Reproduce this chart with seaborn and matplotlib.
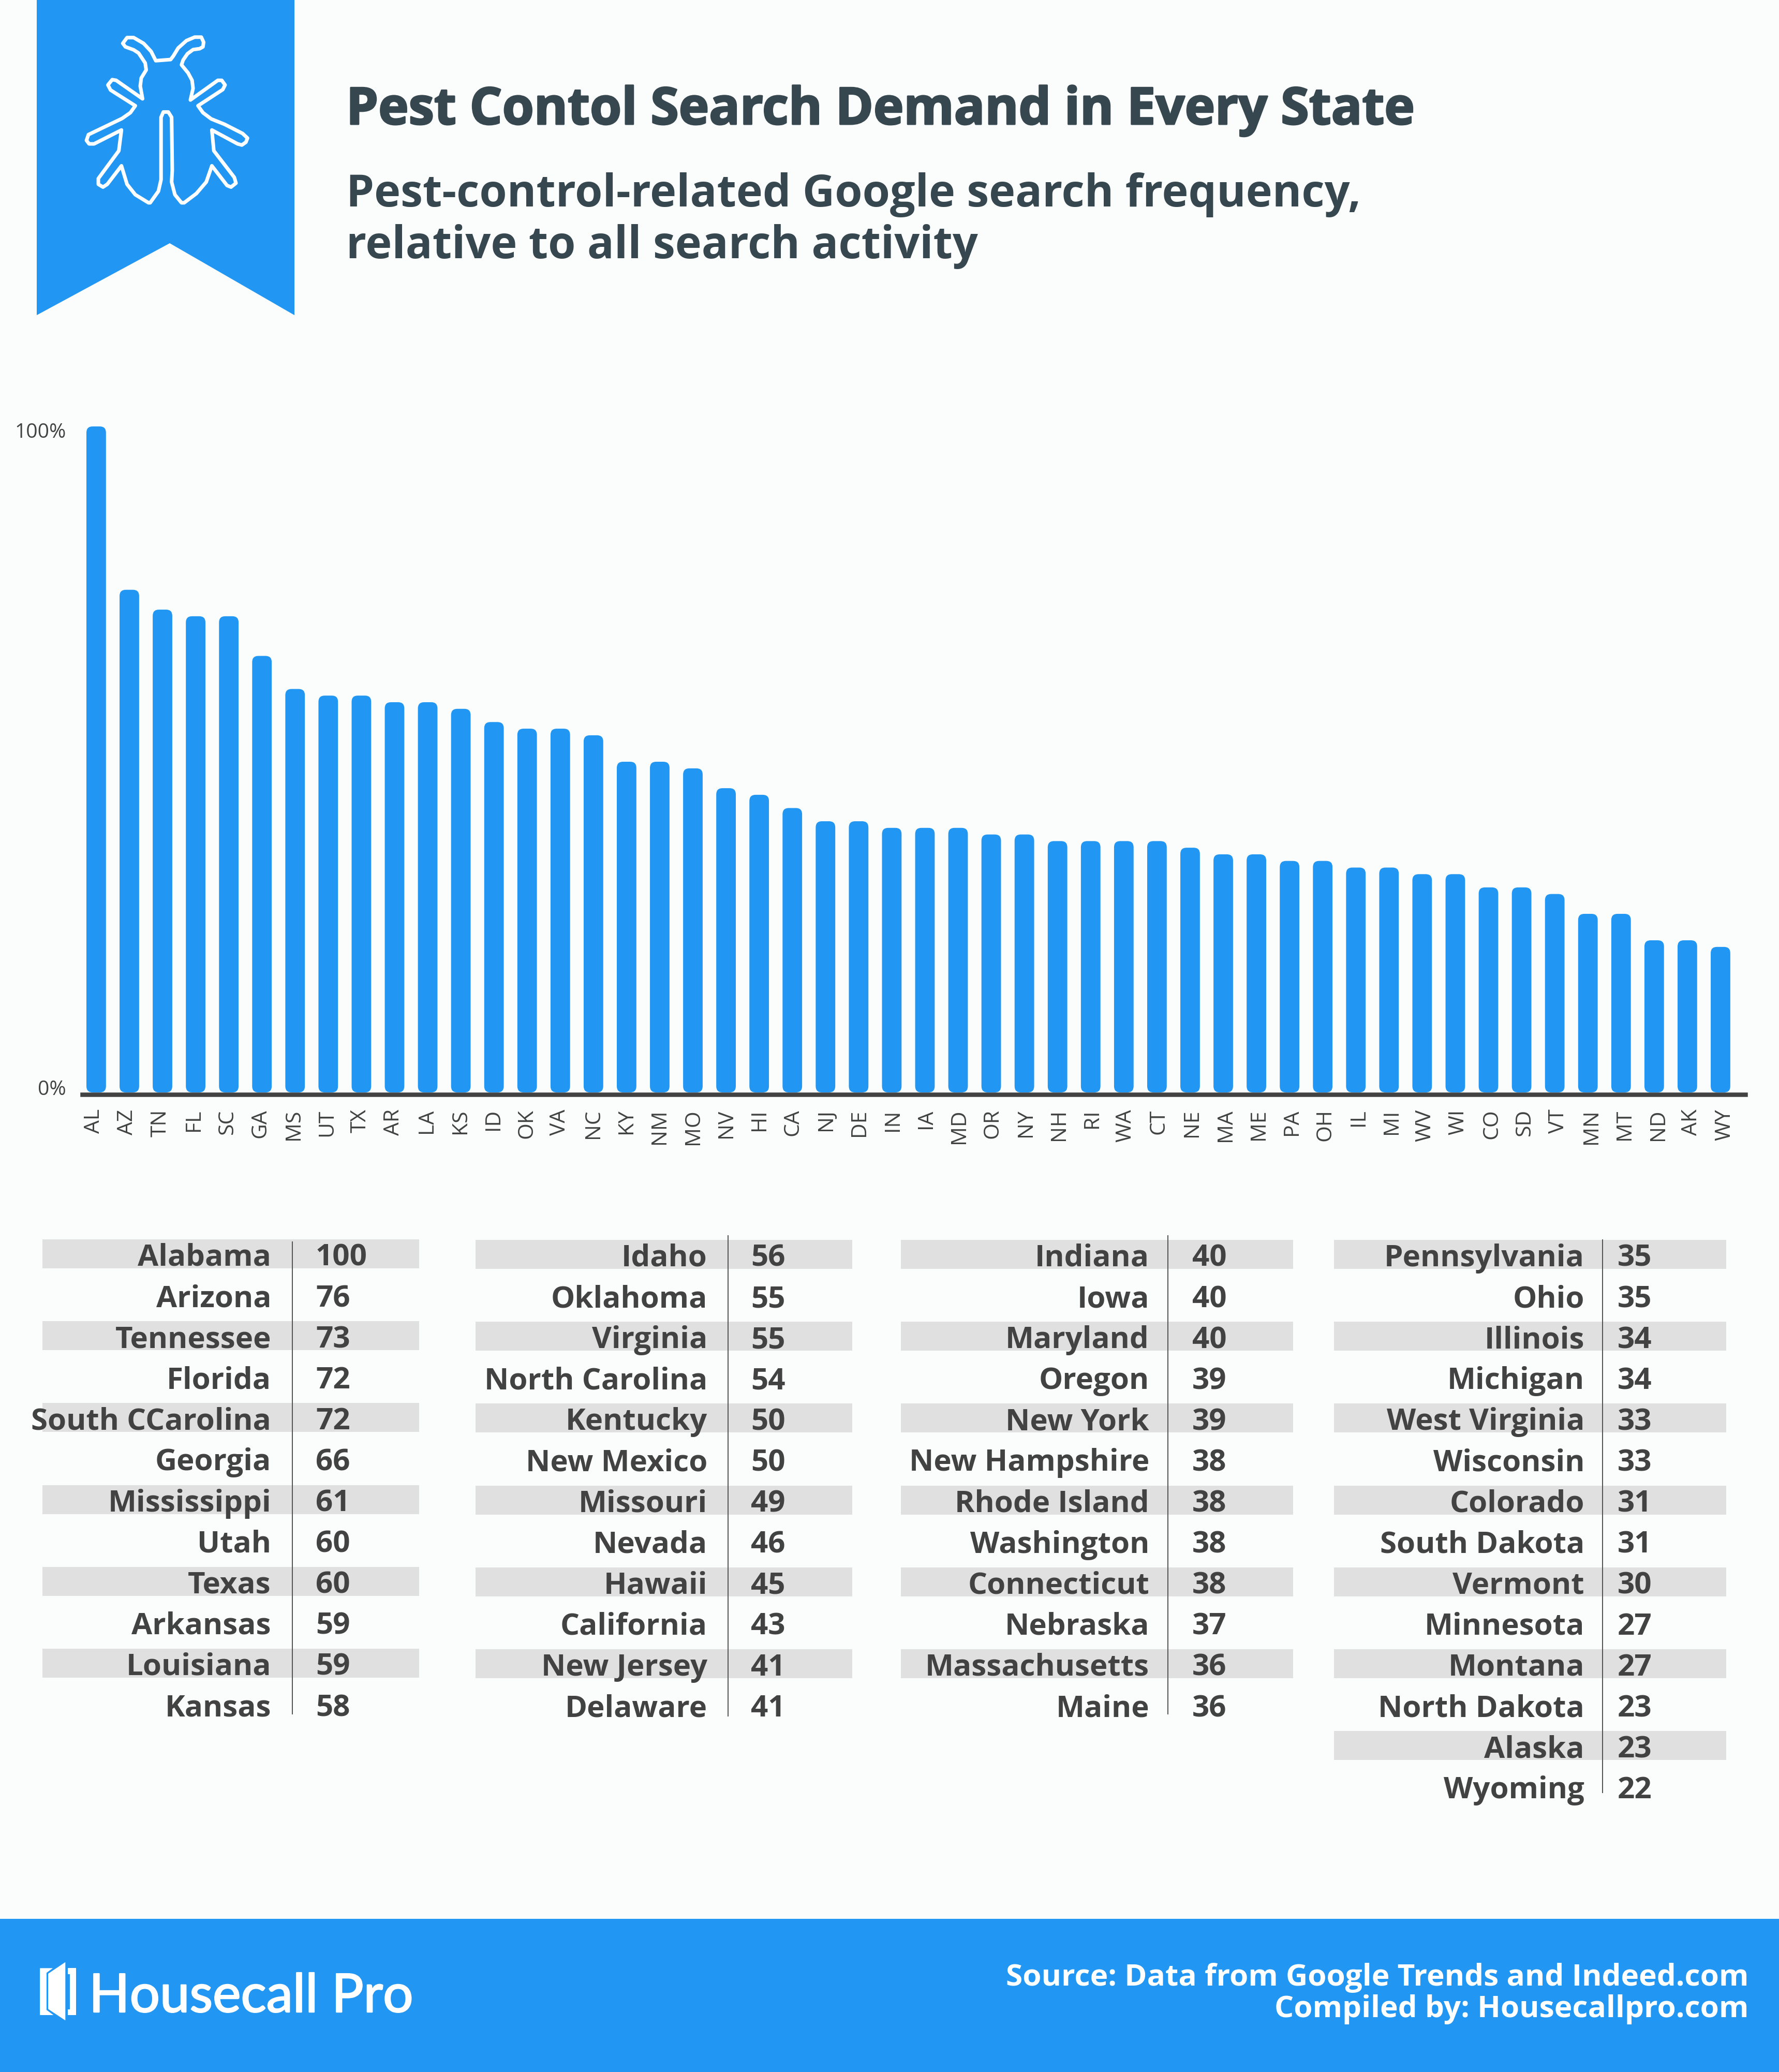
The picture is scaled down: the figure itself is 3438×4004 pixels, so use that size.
import matplotlib
matplotlib.use("Agg")
import matplotlib.pyplot as plt
import matplotlib.patheffects as pe
from matplotlib.patches import FancyBboxPatch, Polygon, Rectangle
from matplotlib.transforms import ScaledTranslation
import pandas as pd
import seaborn as sns

# --- data ---
abbr = ["AL", "AZ", "TN", "FL", "SC", "GA", "MS", "UT", "TX", "AR", "LA", "KS",
        "ID", "OK", "VA", "NC", "KY", "NM", "MO", "NV", "HI", "CA", "NJ", "DE",
        "IN", "IA", "MD", "OR", "NY", "NH", "RI", "WA", "CT", "NE", "MA", "ME",
        "PA", "OH", "IL", "MI", "WV", "WI", "CO", "SD", "VT", "MN", "MT", "ND", "AK", "WY"]
states = ["Alabama", "Arizona", "Tennessee", "Florida", "South CCarolina", "Georgia",
          "Mississippi", "Utah", "Texas", "Arkansas", "Louisiana", "Kansas",
          "Idaho", "Oklahoma", "Virginia", "North Carolina", "Kentucky", "New Mexico",
          "Missouri", "Nevada", "Hawaii", "California", "New Jersey", "Delaware",
          "Indiana", "Iowa", "Maryland", "Oregon", "New York", "New Hampshire",
          "Rhode Island", "Washington", "Connecticut", "Nebraska", "Massachusetts", "Maine",
          "Pennsylvania", "Ohio", "Illinois", "Michigan", "West Virginia", "Wisconsin",
          "Colorado", "South Dakota", "Vermont", "Minnesota", "Montana", "North Dakota",
          "Alaska", "Wyoming"]
values = [100, 76, 73, 72, 72, 66, 61, 60, 60, 59, 59, 58,
          56, 55, 55, 54, 50, 50, 49, 46, 45, 43, 41, 41,
          40, 40, 40, 39, 39, 38, 38, 38, 38, 37, 36, 36,
          35, 35, 34, 34, 33, 33, 31, 31, 30, 27, 27, 23, 23, 22]
# heights: the Alabama bar stands a bit taller than its table value
bar_heights = [100.7, 76, 73, 72, 72, 66, 61, 60, 60, 59, 59, 58,
               56, 55, 55, 54, 50, 50, 49, 46, 45, 43, 41, 41,
               40, 40, 40, 39, 39, 38, 38, 38, 38, 37, 36, 36,
               35, 35, 34, 34, 33, 33, 31, 31, 30, 27, 27, 23, 23, 22]
column_sizes = [12, 12, 12, 14]

BLUE = "#2196F3"
BG = "#FBFDFC"
DARK = "#37474F"
TEXT = "#424242"
STRIPE = "#E0E0E0"
W, H = 3438, 4005

sns.set_theme(style="white")
plt.rcParams["font.family"] = ["Open Sans", "DejaVu Sans"]


def pt(px):
    return px * 72 / 100


df = pd.DataFrame({"abbr": abbr, "state": states, "value": values, "height": bar_heights})

fig = plt.figure(figsize=(W / 100, H / 100), dpi=100, facecolor=BG)

# page layer, in pixels
page = fig.add_axes([0, 0, 1, 1], zorder=0)
page.set_xlim(0, W)
page.set_ylim(H, 0)
page.axis("off")

# banner + bug
page.add_patch(Polygon([(71, 0), (569, 0), (569, 610), (328, 471), (71, 610)], color=BLUE, lw=0))
bug = [(472, 265), (517, 260), (525, 245), (540, 210), (565, 178), (590, 163), (610, 163), (617, 185),
       (615, 205), (605, 213), (585, 217), (568, 235), (555, 262), (550, 283), (570, 318), (582, 350),
       (585, 385), (577, 435), (660, 350), (672, 350), (682, 370), (675, 390), (600, 460), (615, 490),
       (640, 517), (680, 540), (735, 580), (750, 600), (745, 618), (733, 630), (720, 625), (642, 565),
       (648, 655), (710, 770), (715, 795), (700, 812), (688, 805), (642, 720), (625, 790), (595, 840),
       (558, 880), (550, 880), (530, 845), (520, 790), (522, 740), (520, 510), (510, 487), (495, 487),
       (488, 510), (488, 780), (480, 830), (455, 880), (450, 880), (410, 845), (385, 800), (368, 720),
       (325, 800), (312, 812), (298, 800), (298, 775), (360, 655), (368, 565), (285, 625), (270, 625),
       (262, 610), (268, 585), (370, 515), (395, 490), (410, 460), (335, 392), (327, 370), (340, 347),
       (352, 350), (432, 430), (425, 375), (428, 340), (443, 305), (440, 275), (420, 232), (405, 218),
       (380, 205), (372, 190), (385, 165), (405, 165), (435, 190), (458, 225)]
page.add_patch(Polygon([(x / 1.568, y / 2.24) for x, y in bug], closed=True, fill=False,
                       ec="white", lw=pt(7), joinstyle="round"))

# titles
heavy = [pe.withStroke(linewidth=pt(3), foreground=DARK)]
page.text(669, 241, "Pest Contol Search Demand in Every State", color=DARK, fontsize=pt(99),
          fontweight="bold", va="baseline", path_effects=heavy)
page.text(669, 399, "Pest-control-related Google search frequency,", color=DARK, fontsize=pt(86.1),
          fontweight="bold", va="baseline")
page.text(669, 499, "relative to all search activity", color=DARK, fontsize=pt(86.1),
          fontweight="bold", va="baseline")

# --- bar chart ---
left, right, top, bottom = 159, 3373, 834, 2112
ax = fig.add_axes([left / W, 1 - bottom / H, (right - left) / W, (bottom - top) / H], zorder=1)
ax.patch.set_alpha(0)
sns.barplot(data=df, x="abbr", y="height", color=BLUE, saturation=1, width=0.59, ax=ax)
ax.set_xlim(-0.42, 49.75)
ax.set_ylim(0, 100)
ax.set_xlabel("")
ax.set_ylabel("")

# round the bar corners
px_x = (right - left) / (49.75 + 0.42)
px_y = (bottom - top) / 100
radius = 12 / px_x
for bar in list(ax.patches):
    x, y, w, h = bar.get_x(), bar.get_y(), bar.get_width(), bar.get_height()
    bar.remove()
    ax.add_patch(FancyBboxPatch((x, y), w, h, boxstyle=f"round,pad=0,rounding_size={radius}",
                                mutation_aspect=px_x / px_y, fc=BLUE, ec="none", clip_on=False))

for side in ["top", "left", "right"]:
    ax.spines[side].set_visible(False)
ax.spines["bottom"].set_color(TEXT)
ax.spines["bottom"].set_linewidth(pt(8.5))
ax.spines["bottom"].set_position(("outward", pt(4.2)))
ax.set_yticks([0, 100], ["0%", "100%"])
ax.tick_params(axis="y", length=0, pad=pt(31), labelsize=pt(39), labelcolor=TEXT)
ax.tick_params(axis="x", length=0, pad=pt(27), labelsize=pt(41), labelcolor=TEXT, rotation=90)
for lbl, dy in zip(ax.get_yticklabels(), [10, 2]):
    lbl.set_transform(lbl.get_transform() + ScaledTranslation(0, pt(dy) / 72, fig.dpi_scale_trans))
for i, lbl in enumerate(ax.get_xticklabels()):
    # labels in the original drift slightly right of the bars
    lbl.set_transform(lbl.get_transform() + ScaledTranslation(pt(-4 + 12 * i / 49) / 72, 0, fig.dpi_scale_trans))

# --- table ---
col_x0 = [82, 919, 1741, 2578]
col_x1 = [810, 1647, 2499, 3336]
col_div = [565, 1407, 2257, 3097]
col_name = [524, 1367, 2221, 3062]
col_num = [610, 1451, 2304, 3126]
col_top = [2396, 2397, 2397, 2397]
div_span = [(2400, 3314), (2388, 3318), (2388, 3314), (2396, 3466)]
row_h = 79.1

start = 0
for c, n in enumerate(column_sizes):
    rows = df.iloc[start:start + n]
    start += n
    for r, (_, row) in enumerate(rows.iterrows()):
        y0 = col_top[c] + r * row_h
        if r % 2 == 0:
            page.add_patch(Rectangle((col_x0[c], y0), col_x1[c] - col_x0[c], 56, fc=STRIPE, ec="none"))
        page.text(col_name[c], y0 + 50, row["state"], ha="right", va="baseline", color=TEXT,
                  fontsize=pt(58.3), fontweight="bold")
        page.text(col_num[c], y0 + 50, str(row["value"]), ha="left", va="baseline", color=TEXT,
                  fontsize=pt(58.3), fontweight="bold")
    page.plot([col_div[c], col_div[c]], div_span[c], color="#555555", lw=pt(2), solid_capstyle="butt")

# --- footer ---
page.add_patch(Rectangle((0, 3709), W, H - 3709, fc=BLUE, ec="none"))
sx, sy = 1 / 1.568, 1 / 3
door_left = [(121, 613), (160, 613), (141, 640), (141, 855), (162, 885), (121, 885)]
door_mid = [(198, 578), (198, 916), (146, 850), (146, 645)]
door_right = [(205, 613), (230, 613), (230, 885), (205, 885), (205, 852), (212, 852), (212, 648), (205, 648)]
for shape in [door_left, door_mid, door_right]:
    page.add_patch(Polygon([(x * sx, 3600 + y * sy) for x, y in shape], fc="white", ec="none"))
page.text(172, 3889, "Housecall Pro", color="white", fontsize=pt(103), family=["Lato", "DejaVu Sans"],
          va="baseline", path_effects=[pe.withStroke(linewidth=pt(2.5), foreground="white")])
page.text(3379, 3837, "Source: Data from Google Trends and Indeed.com", color="white", fontsize=pt(58.5),
          fontweight="bold", ha="right", va="baseline")
page.text(3379, 3898, "Compiled by: Housecallpro.com", color="white", fontsize=pt(58.5),
          fontweight="bold", ha="right", va="baseline")

fig.savefig("out.png", dpi=100, facecolor=BG)
